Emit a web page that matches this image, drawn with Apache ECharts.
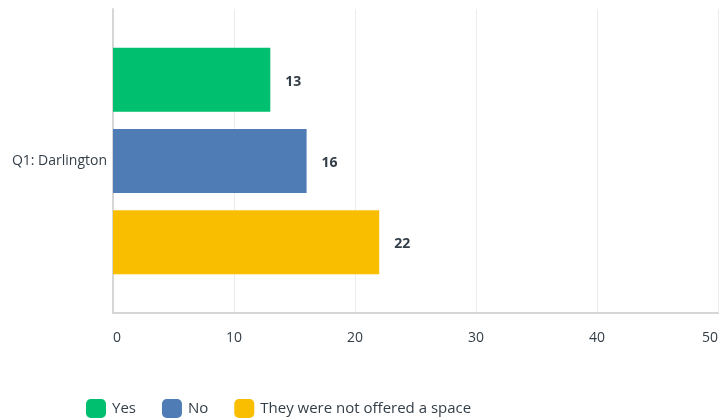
<!DOCTYPE html>
<html><head><meta charset="utf-8">
<script src="https://cdn.jsdelivr.net/npm/echarts@6/dist/echarts.min.js"></script>
<style>html,body{margin:0;padding:0;background:#fff}#c{width:722px;height:420px}</style>
</head><body><div id="c"></div>
<script>
const categories = ["Q1: Darlington"];
const seriesNames = ["Yes", "No", "They were not offered a space"];
const yesValues = [13];
const noValues = [16];
const notOfferedValues = [22];
const colors = ["#00bf6f", "#507cb6", "#f9be00"];
const xTicks = {min: 0, max: 50, interval: 10};

const font = "'Open Sans', sans-serif";
const txt = "#333e48";
const chart = echarts.init(document.getElementById('c'), null, {renderer: 'canvas'});
const vals = [yesValues, noValues, notOfferedValues];
chart.setOption({
  animation: false,
  grid: {left: 113, right: 4, top: 9, bottom: 107, containLabel: false, outerBoundsMode: 'none'},
  legend: {
    top: 399, left: 86, padding: 0,
    itemWidth: 20, itemHeight: 19, itemGap: 26,
    icon: 'roundRect',
    textStyle: {fontFamily: font, fontSize: 15, color: txt, padding: [0, 0, 0, 1]},
    data: seriesNames
  },
  xAxis: {
    type: 'value', min: xTicks.min, max: xTicks.max, interval: xTicks.interval,
    axisLine: {show: true, lineStyle: {color: '#d6d6d6', width: 2}},
    axisTick: {show: false},
    splitLine: {lineStyle: {color: '#ececec', width: 1}},
    axisLabel: {fontFamily: font, fontSize: 14, color: txt, margin: 18, alignMinLabel: 'left', alignMaxLabel: 'right'}
  },
  yAxis: {
    type: 'category', data: categories,
    axisLine: {show: true, lineStyle: {color: '#d6d6d6', width: 2}},
    axisTick: {show: false},
    axisLabel: {fontFamily: font, fontSize: 14, color: txt, margin: 6}
  },
  series: seriesNames.map((n, i) => ({
    name: n, type: 'bar', data: vals[i],
    barWidth: 64, barGap: '27%',
    itemStyle: {color: colors[i]},
    label: {show: true, position: 'right', distance: 15, offset: [0, 2], fontFamily: font, fontSize: 14, fontWeight: 'bold', color: txt}
  }))
});
</script></body></html>
